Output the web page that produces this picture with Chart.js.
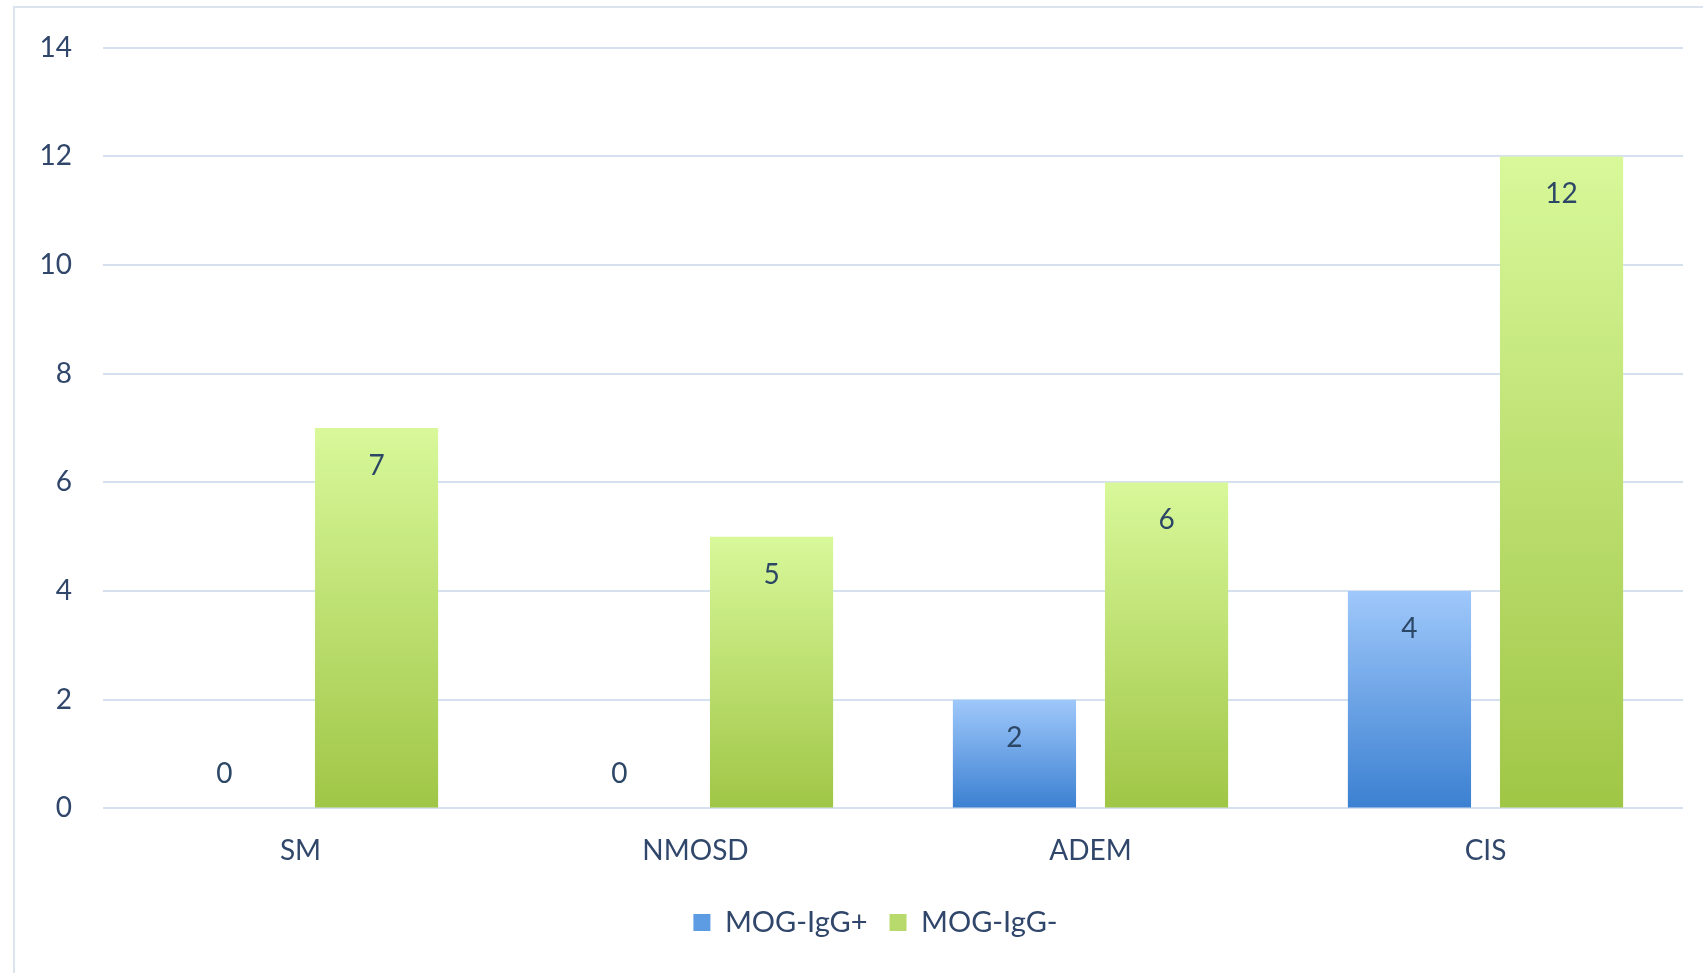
<!DOCTYPE html>
<html lang="en">
<head>
    <meta charset="UTF-8">
    <title>MOG-IgG</title>
    <script src="https://cdn.jsdelivr.net/npm/chart.js"></script>
    <style>
        html, body {
            margin: 0;
            background: #fff;
        }

        .frame {
            position: absolute;
            left: 13px;
            top: 6px;
            width: 1700px;
            height: 980px;
            border-left: 2px solid #dbe3ee;
            border-top: 2px solid #dbe3ee;
        }

        .chart-box {
            position: absolute;
            left: 0;
            top: 0;
            width: 1703px;
            height: 973px;
        }
    </style>
</head>
<body>
    <div class="frame"></div>
    <div class="chart-box">
        <canvas id="mogChart"></canvas>
    </div>

    <script>
        const categories = ['SM', 'NMOSD', 'ADEM', 'CIS'];
        const mogPositive = [0, 0, 2, 4];
        const mogNegative = [7, 5, 6, 12];
        const yTicks = [0, 2, 4, 6, 8, 10, 12, 14];

        const textColor = '#30466a';
        const fontFamily = 'Lato, "Open Sans", sans-serif';

        // gradient per bar, from its top down to the baseline
        function barGradient(topColor, bottomColor) {
            return function (context) {
                const chart = context.chart;
                if (!chart.chartArea || !chart.scales.y) return bottomColor;
                const y = chart.scales.y;
                const v = context.raw || 0;
                const top = y.getPixelForValue(v);
                const base = y.getPixelForValue(0);
                if (base - top < 1) return bottomColor;
                const g = chart.ctx.createLinearGradient(0, top, 0, base);
                g.addColorStop(0, topColor);
                g.addColorStop(1, bottomColor);
                return g;
            };
        }

        // value labels inside the top of each bar (above baseline for zero)
        const valueLabels = {
            id: 'valueLabels',
            afterDatasetsDraw(chart) {
                const ctx = chart.ctx;
                ctx.save();
                ctx.font = '28px ' + fontFamily;
                ctx.fillStyle = '#2c4766';
                ctx.textAlign = 'center';
                ctx.textBaseline = 'middle';
                chart.data.datasets.forEach((ds, i) => {
                    const meta = chart.getDatasetMeta(i);
                    meta.data.forEach((bar, j) => {
                        const v = ds.data[j];
                        const y = v > 0 ? bar.y + 38 : bar.base - 34;
                        ctx.fillText(String(v), bar.x, y);
                    });
                });
                ctx.restore();
            }
        };

        // legend sits a bit right of centre in the original
        const legendShift = {
            id: 'legendShift',
            afterLayout(chart) {
                if (!chart.legend) return;
                chart.legend.left += 34;
                chart.legend.right += 34;
            }
        };

        new Chart(document.getElementById('mogChart'), {
            type: 'bar',
            data: {
                labels: categories,
                datasets: [{
                    label: 'MOG-IgG+',
                    data: mogPositive,
                    backgroundColor: barGradient('#9fc8fb', '#3b80d1')
                }, {
                    label: 'MOG-IgG-',
                    data: mogNegative,
                    backgroundColor: barGradient('#d8f89a', '#a0c646')
                }]
            },
            options: {
                responsive: true,
                maintainAspectRatio: false,
                animation: false,
                datasets: {
                    bar: {
                        categoryPercentage: 0.77,
                        barPercentage: 0.81
                    }
                },
                layout: {
                    padding: { top: 34, right: 20, bottom: 26, left: 0 }
                },
                scales: {
                    x: {
                        grid: { display: false },
                        border: { display: false },
                        ticks: {
                            color: textColor,
                            font: { family: fontFamily, size: 28 },
                            padding: 18
                        }
                    },
                    y: {
                        min: 0,
                        max: 14,
                        afterFit(scale) { scale.width = 103; },
                        afterBuildTicks(scale) {
                            scale.ticks = yTicks.map(v => ({ value: v }));
                        },
                        grid: {
                            color: '#d6e1f0',
                            lineWidth: 2,
                            drawTicks: false
                        },
                        border: { display: false },
                        ticks: {
                            color: textColor,
                            font: { family: fontFamily, size: 28 },
                            padding: 31
                        }
                    }
                },
                plugins: {
                    legend: {
                        position: 'bottom',
                        labels: {
                            color: textColor,
                            font: { family: fontFamily, size: 29 },
                            boxWidth: 17,
                            boxHeight: 17,
                            padding: 22,
                            generateLabels(chart) {
                                const fills = ['#5d9be2', '#b8da6c'];
                                return chart.data.datasets.map((ds, i) => ({
                                    text: ds.label,
                                    fillStyle: fills[i],
                                    strokeStyle: fills[i],
                                    lineWidth: 0,
                                    fontColor: textColor,
                                    datasetIndex: i
                                }));
                            }
                        }
                    },
                    tooltip: { enabled: false }
                }
            },
            plugins: [valueLabels, legendShift]
        });
    </script>
</body>
</html>
